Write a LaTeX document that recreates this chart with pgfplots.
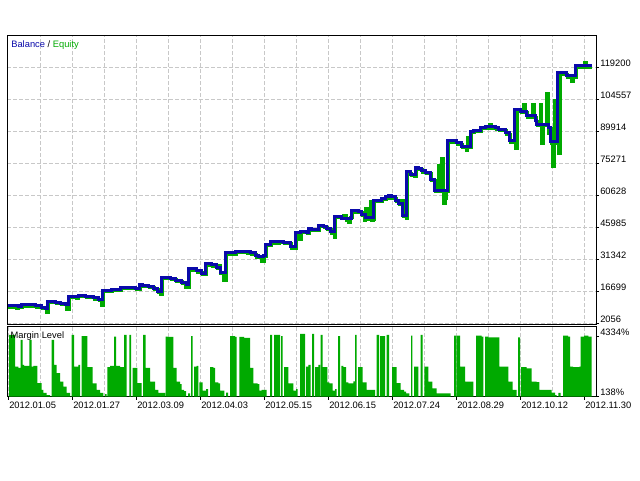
\documentclass[border=0pt]{standalone}
\usepackage{pgfplots}
\pgfplotsset{compat=1.18}
\usepackage{fontspec}
\setmainfont{Liberation Sans}
\definecolor{balblue}{RGB}{10,10,170}
\definecolor{eqgreen}{RGB}{0,170,0}
\definecolor{gridgray}{RGB}{200,200,200}
\newcommand{\mtfont}{\fontsize{7pt}{8.4pt}\selectfont}
\pgfplotsset{mtaxis/.style={scale only axis, anchor=south west, xmin=7, xmax=596,
  axis line style={black, line width=0.75pt},
  grid style={gridgray, line width=0.75pt, dash pattern=on 3pt off 1.5pt},
  tick style={black, line width=0.75pt}, tick align=outside,
  major tick length=2.25pt, minor tick length=0pt,
  scaled y ticks=false, scaled x ticks=false,
  tick label style={font=\mtfont},
  yticklabel style={anchor=west, inner sep=0pt, xshift=0.75pt, yshift=2.8pt}}}
\begin{document}
\begin{tikzpicture}[font=\mtfont]
\path[use as bounding box, fill=white] (0,0) rectangle (480pt,360pt);

% ---------- Balance / Equity panel ----------
\begin{axis}[mtaxis, at={(5.25pt,116.625pt)}, width=441.75pt, height=216.6pt,
  ymin=1370, ymax=133522,
  xtick={40,72,...,584}, xticklabels={}, xtick style={draw=none},
  xmajorgrids, ymajorgrids,
  ytick={2056,16699,31342,45985,60628,75271,89914,104557,119200},
  yticklabels={2056,16699,31342,45985,60628,75271,89914,104557,119200},
  ytick pos=right]
\addplot[const plot, eqgreen, line width=2.25pt] coordinates {
(8,9272) (16.5,8783) (18.5,8998) (22.7,9730) (36,9272) (42.7,8540) (46,6952) (48.7,11286) (56,10828) (61,10508) (66,8325) (69.3,13711) (76.5,13496) (78,14169) (86,13711) (94.3,12933) (99.3,12201) (101,10293) (103.3,16456) (112.7,16914) (121,17829) (136,17234) (140.3,19065) (143.7,18607) (149.3,18287) (154.3,17234) (158.3,15999) (160,15326) (162.7,22268) (171,21810) (176,21032) (182.7,19980) (185.7,18392) (189.3,26203) (197.7,25288) (202.7,24098) (206,28491) (212.7,28033) (217.7,26844) (219,28596) (220.5,24556) (223.5,21732) (226,33525) (236,34250) (247.7,33982) (251,33525) (256,32152) (259.3,31877) (261,30106) (264,32335) (266,37506) (271,38558) (279.3,38878) (284.3,38284) (291,36270) (296,42676) (298.5,40356) (301,43454) (307.7,42859) (309.3,44690) (312.7,44232) (319.3,46200) (324.3,45742) (327.7,44690) (331,43134) (334,41409) (335.3,50318) (343,51476) (346.5,49083) (348,47952) (350,50318) (352.7,52743) (359.3,52606) (362.7,51233) (364.5,49188) (365.5,54679) (367,49540) (370,57562) (371.5,49188) (373,49540) (374.3,57640) (382.7,58418) (386,59150) (389.3,59928) (392.7,59150) (396,57640) (399.3,56130) (401.5,58340) (403.3,50776) (406,50103) (407.7,70589) (411,69537) (414.5,69322) (416,72420) (419.3,72145) (422.7,71047) (426,70315) (431,67249) (435,62215) (438,74355) (440,62215) (441.5,77558) (443.5,56967) (445,59255) (446.5,62215) (448.3,84775) (457.7,83860) (462.7,82349) (466.5,81219) (467.5,87168) (469,82349) (471,89213) (474.3,89671) (481,90906) (486,91181) (489.5,93116) (491,91181) (496,90723) (499.3,90128) (506,88435) (510.3,84775) (515.3,81997) (517,99143) (521,98365) (523.5,102268) (525,98365) (527.7,96214) (532.5,102268) (534,96214) (536,94247) (537.7,92279) (540,102268) (541.5,84422) (543,92279) (546.5,107164) (548,88998) (549.3,90906) (551,84317) (552.5,73577) (554.5,104099) (556,84317) (558,79846) (560,115891) (567.7,114518) (571.5,112474) (573,114518) (576,119094) (584.5,121349) (586.5,119094) (591.7,119094)
};
\addplot[const plot, balblue, line width=2.25pt] coordinates {
(8,9972) (18.3,9698) (21.7,10430) (35,9972) (41.7,9240) (45,8783) (47.7,11986) (55,11528) (60,11208) (65,10430) (68.3,14411) (78.3,14869) (85,14411) (93.3,13633) (98.3,12901) (102.3,17156) (111.7,17614) (120,18529) (135,17934) (139.3,19765) (142.7,19307) (148.3,18987) (153.3,17934) (157.3,16699) (161.7,22968) (170,22510) (175,21732) (181.7,20680) (186.7,19765) (188.3,26903) (196.7,25988) (201.7,24798) (205,29191) (211.7,28733) (216.7,27544) (220,25256) (225,34225) (235,34950) (246.7,34682) (250,34225) (255,32852) (258.3,32577) (263.3,33035) (265,38206) (270,39258) (278.3,39578) (283.3,38984) (290,36970) (295,43376) (300,44154) (306.7,43559) (308.3,45390) (311.7,44932) (318.3,46900) (323.3,46442) (326.7,45390) (330,43834) (334.3,51018) (341.7,49783) (351.7,53443) (358.3,53306) (361.7,51933) (365,50240) (373.3,58340) (381.7,59118) (385,59850) (388.3,60628) (391.7,59850) (395,58340) (398.3,56830) (402.7,51476) (406.7,71289) (410,70237) (415,73120) (418.3,72845) (421.7,71747) (425,71015) (430,67949) (434,62915) (447.3,85475) (456.7,84560) (461.7,83049) (470,89913) (473.3,90371) (480,91606) (485,91881) (495,91423) (498.3,90828) (505,89135) (509.3,85475) (514.3,99843) (520,99065) (526.7,96914) (535,94947) (536.7,92979) (548.3,91606) (550,85017) (557.7,116591) (566.7,115218) (575,119794) (591.7,119794)
};
\end{axis}

% ---------- Margin level panel ----------
\begin{axis}[mtaxis, at={(5.25pt,62.625pt)}, width=441.75pt, height=52.5pt,
  ymin=138, ymax=4993,
  xtick={8,72,...,584}, minor xtick={40,104,...,552},
  xmajorgrids, xminorgrids, xtick pos=bottom,
  xticklabels={2012.01.05,2012.01.27,2012.03.09,2012.04.03,2012.05.15,2012.06.15,2012.07.24,2012.08.29,2012.10.12,2012.11.30},
  xticklabel style={anchor=north west, inner sep=0pt, xshift=0.75pt, yshift=-1.65pt},
  ytick={138,4334}, yticklabels={138\%,4334\%}, ytick pos=right]
\addplot[const plot, fill=eqgreen, draw=none] coordinates {
(7,138) (9,4404) (15,2205) (18.3,2115) (20.7,4057) (22.7,2323) (24,2254) (29.3,4057) (31.7,2205) (33.3,2254) (37.3,1074) (41.7,589) (43.3,381) (46.7,242) (50,138) (51.7,4057) (54,2323) (56.7,1768) (60,1165) (63.3,818) (66.7,381) (70,138) (71.7,4404) (74,2205) (78.3,2323) (80,138) (81.7,4334) (87.3,2184) (92.7,1054) (96.7,589) (100,381) (103.3,138) (105,311) (106.7,138) (107.3,2184) (110,2254) (114,4286) (116,2254) (120,2184) (124,4404) (126.7,138) (129.3,4404) (131,138) (132.7,2115) (137.3,1074) (141.7,138) (143,4404) (145.7,2115) (150,1165) (155,589) (158.3,381) (165,138) (165.7,4286) (167.7,4265) (173.3,2115) (176.7,1165) (180,1005) (181.7,589) (184,519) (186,138) (188,360) (190,138) (191,4334) (192.7,138) (194,2205) (196.7,2254) (198.3,138) (199.3,1123) (202.7,540) (206,658) (208,138) (210,2184) (213.3,2115) (215,1123) (218.3,1054) (220,540) (224.3,138) (226,402) (228,138) (230,4334) (235,4265) (236.7,138) (239.3,4265) (244,4196) (250,2115) (253.3,1054) (257.7,1005) (259.3,540) (261.7,589) (266.7,138) (270,4404) (272,138) (274,4404) (280,138) (281,4334) (282.7,138) (284,2184) (288.3,1054) (293.3,540) (296,658) (297.7,138) (300,4473) (302.3,138) (302.7,4473) (305,138) (306,2205) (308.3,2323) (310.7,138) (312,4473) (314,138) (315,2184) (318.3,2323) (320,138) (320.7,4404) (322.7,2184) (327.3,1123) (329.3,1054) (332.7,540) (335,658) (336.7,138) (338,4334) (340,138) (341.3,2254) (343.3,2184) (346,1123) (348.3,1054) (353.3,1190) (355,4404) (356.7,138) (358,2184) (362.7,1123) (366.7,589) (375,138) (376.7,4404) (379,138) (380,4334) (385,138) (386.7,4404) (389,138) (392,2184) (396.7,1074) (400.7,589) (404,471) (406,360) (409.3,138) (411,4355) (412.3,138) (414,2205) (418.3,138) (420.7,4404) (422.7,138) (424.3,2205) (428.3,1165) (432.3,707) (436.7,360) (450.7,138) (454,4355) (456,138) (456.7,4355) (460,2205) (465,1165) (473.3,138) (476,4355) (481.7,4286) (483.3,138) (485,4286) (488.3,4244) (499.3,2205) (508.3,1165) (512.7,589) (516.7,138) (518,4244) (520,138) (521,2170) (526.7,2094) (531.7,1165) (536.7,1130) (539.3,589) (551.7,402) (555,242) (556.7,138) (558.3,381) (560.7,138) (563,4355) (568,4286) (570,2205) (573,2184) (579.3,2205) (580.7,4286) (584,4355) (588.3,4286) (591.7,138) (596,138)
} \closedcycle;
\end{axis}

\node[anchor=north west, inner sep=0pt] at (8.3pt,329.5pt)
  {\textcolor{balblue}{Balance} / \textcolor{eqgreen}{Equity}};
\node[anchor=north west, inner sep=0pt] at (7.8pt,111.2pt) {Margin Level};
\end{tikzpicture}
\end{document}
